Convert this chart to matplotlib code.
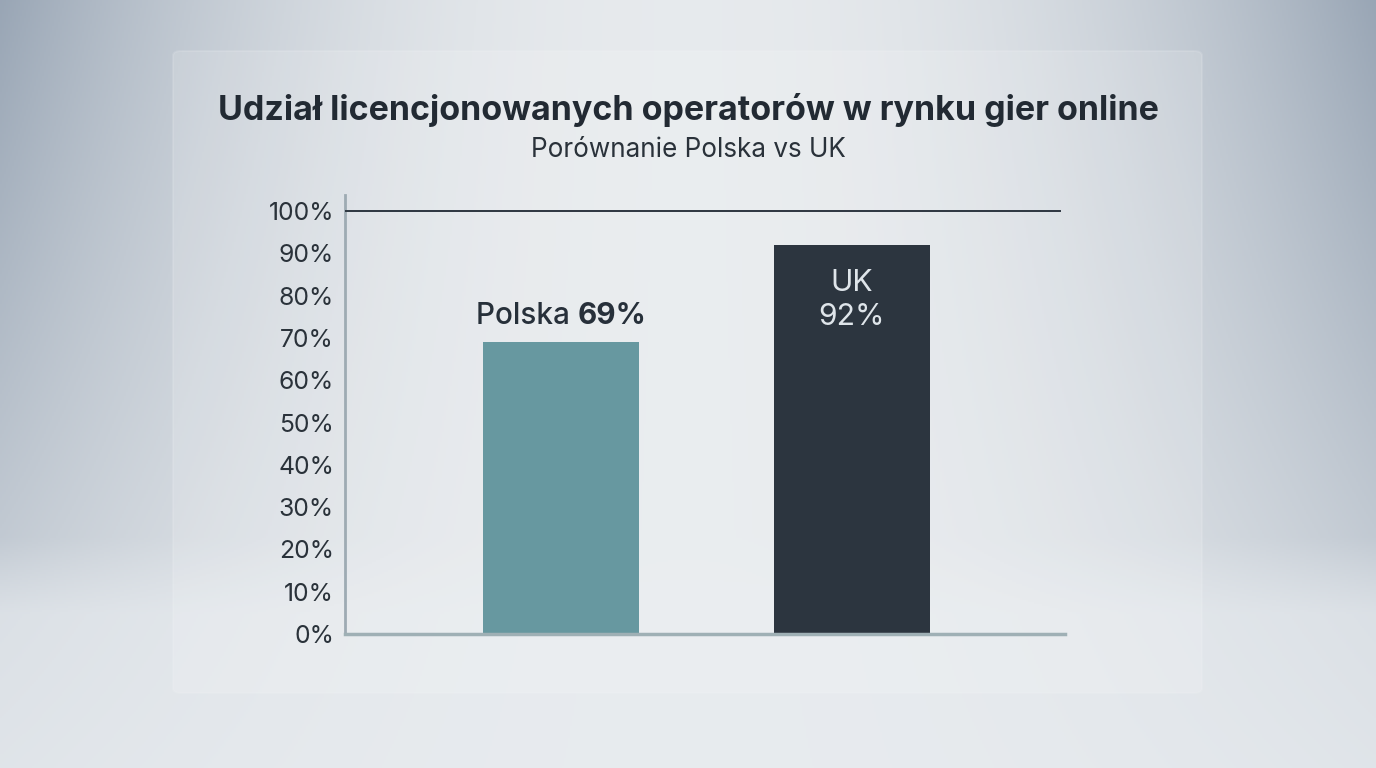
import numpy as np
import matplotlib.pyplot as plt
from matplotlib.patches import FancyBboxPatch
from matplotlib.ticker import FuncFormatter

# data
countries = ['Polska', 'UK']
shares = [69, 92]
bar_colors = ['#6798a0', '#2c353f']
yticks = list(range(0, 101, 10))

title = 'Udział licencjonowanych operatorów w rynku gier online'
subtitle = 'Porównanie Polska vs UK'

plt.rcParams['font.family'] = ['Inter', 'DejaVu Sans']

fig = plt.figure(figsize=(13.76, 7.68), dpi=100)

# background: soft grey-blue gradient, darker at the sides/top corners
bg = fig.add_axes([0, 0, 1, 1])
h, w = 384, 688
yy, xx = np.mgrid[0:h, 0:w]
xn = (xx / (w - 1) - 0.5) * 2
yn = yy / (h - 1)
edge = np.clip(np.abs(xn) ** 2.2, 0, 1) * (1 - 0.75 * yn)
light = np.array([0.905, 0.918, 0.930])
dark = np.array([0.60, 0.65, 0.71])
img = light[None, None, :] * (1 - edge[..., None]) + dark[None, None, :] * edge[..., None]
# lighter floor band near the bottom
floor = np.clip((yn - 0.70) / 0.1, 0, 1)[..., None]
img = img * (1 - 0.6 * floor) + np.array([0.91, 0.925, 0.94]) * 0.6 * floor
bg.imshow(img, extent=[0, 1, 0, 1], aspect='auto', origin='upper')
bg.set_xlim(0, 1)
bg.set_ylim(0, 1)
bg.axis('off')

# translucent panel
panel = FancyBboxPatch((173 / 1376, 1 - 693 / 768), (1202 - 173) / 1376, (693 - 51) / 768,
                       boxstyle='round,pad=0,rounding_size=0.006',
                       transform=bg.transAxes, facecolor='white', alpha=0.15,
                       edgecolor='#f4f6f8', linewidth=1.5)
bg.add_patch(panel)

fig.text(0.5, 1 - 110 / 768, title, ha='center', va='center',
         fontsize=24.5, fontweight='bold', color='#222a33')
fig.text(0.5, 1 - 150 / 768, subtitle, ha='center', va='center',
         fontsize=18.8, color='#2a323a')

ax = fig.add_axes([345 / 1376, 1 - 634 / 768, (1065 - 345) / 1376, (634 - 195) / 768])
ax.patch.set_alpha(0)
x = np.arange(len(countries))
ax.bar(x, shares, width=0.536, color=bar_colors, zorder=2)
ax.set_xlim(-0.742, 1.732)
ax.set_ylim(0, 103.8)
ax.set_yticks(yticks)
ax.yaxis.set_major_formatter(FuncFormatter(lambda v, p: f'{int(v)}%'))
ax.tick_params(axis='y', length=0, pad=8, labelsize=17.8, labelcolor='#2a323a')
ax.set_xticks([])
for s in ['top', 'right']:
    ax.spines[s].set_visible(False)
ax.spines['left'].set_color('#9eabb3')
ax.spines['left'].set_linewidth(2)
ax.spines['bottom'].set_color('#9fb0b5')
ax.spines['bottom'].set_linewidth(2.5)
ax.spines['bottom'].set_zorder(3)
ax.plot([-0.742, 1.715], [100, 100], color='#2d3640', linewidth=1.4, zorder=3)

# labels: Polska above its bar (name normal, value bold), UK inside its bar
fig.canvas.draw()
rend = fig.canvas.get_renderer()
t1 = ax.text(0, shares[0] + 6.2, countries[0] + ' ', ha='left', va='center',
             fontsize=21.4, fontweight='medium', color='#27303a')
t2 = ax.text(0, shares[0] + 6.2, f'{shares[0]}%', ha='left', va='center',
             fontsize=21.4, fontweight='bold', color='#27303a')
w1 = t1.get_window_extent(rend).width
w2 = t2.get_window_extent(rend).width
inv = ax.transData.inverted()
x0_px = ax.transData.transform((0, 0))[0] - (w1 + w2) / 2
t1.set_x(inv.transform((x0_px, 0))[0])
t2.set_x(inv.transform((x0_px + w1, 0))[0])

ax.text(1, shares[1] - 13, countries[1] + '\n' + f'{shares[1]}%', ha='center', va='center',
        fontsize=21.7, color='#dfe5ea', linespacing=1.3)

fig.savefig('out.png', dpi=100)
